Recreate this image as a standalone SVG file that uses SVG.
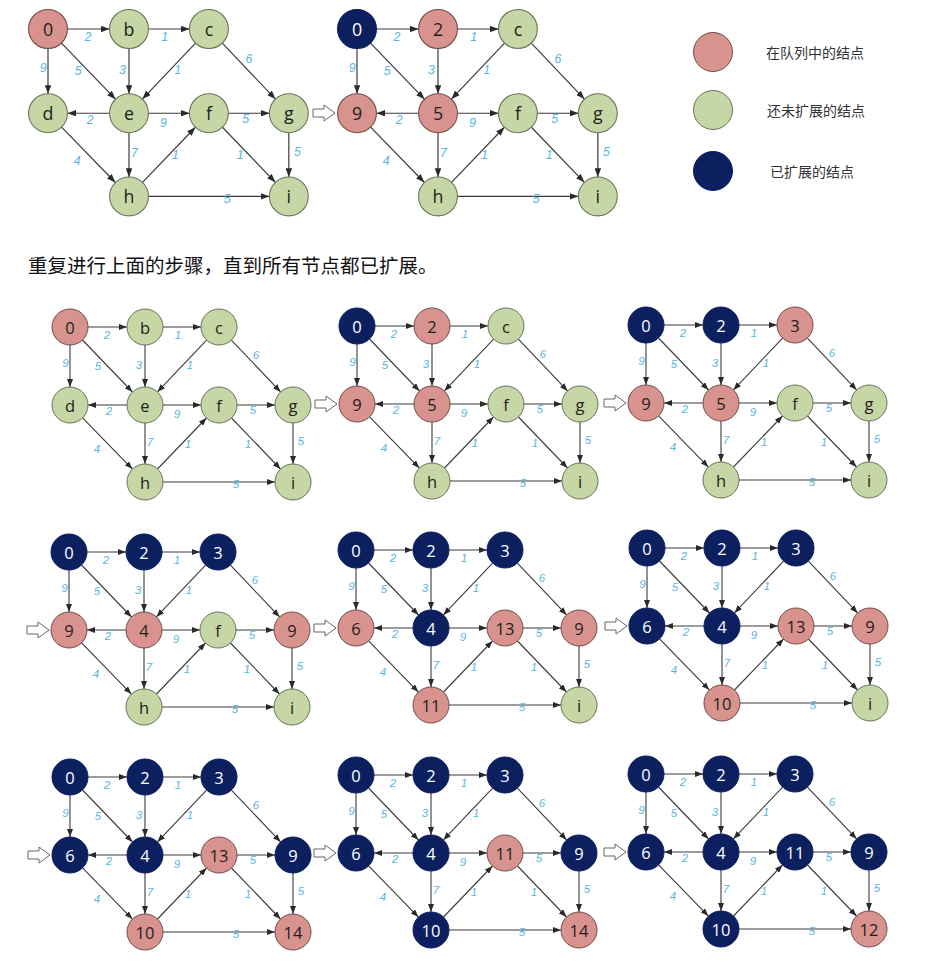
<svg xmlns="http://www.w3.org/2000/svg" xmlns:xlink="http://www.w3.org/1999/xlink" width="926" height="966" viewBox="0 0 926 966">
<style>
.e line{stroke:#3a3a3a;stroke-width:1.1;marker-end:url(#ah)}
.w text{font-family:"Liberation Sans",Arial,sans-serif;font-style:italic;font-size:11.5px;fill:#58b6de;text-anchor:middle;dominant-baseline:central}
.n text{font-family:"Open Sans","Noto Sans",sans-serif;font-size:16.5px;text-anchor:middle;dominant-baseline:central;fill:#1e1e1e}
.p circle{fill:#d8938e;stroke:#6f4d4a;stroke-width:1}
.q circle{fill:#c6d6a4;stroke:#68745a;stroke-width:1}
.v circle{fill:#0c1f5f;stroke:#0c1f5f;stroke-width:1}
.v text{fill:#ffffff}
.ha{fill:#fff;stroke:#666;stroke-width:1}
.lg{font-family:"Noto Sans CJK SC",sans-serif;font-size:14px;fill:#333;dominant-baseline:central}
</style>
<defs>
<marker id="ah" markerUnits="userSpaceOnUse" markerWidth="8" markerHeight="6" refX="8" refY="3" orient="auto"><path d="M0,0 L8,3 L0,6 Z" fill="#2a2a2a"/></marker>
<polygon id="hollow" points="-22,-4 -11,-4 -11,-8 0,0 -11,8 -11,4 -22,4"/>
<g id="edgeset">
<g class="e">
<line x1="18" y1="0" x2="57" y2="0"/>
<line x1="93" y1="0" x2="131" y2="0"/>
<line x1="0" y1="18" x2="0" y2="60"/>
<line x1="12.5" y1="13" x2="62.5" y2="65"/>
<line x1="75" y1="18" x2="75" y2="60"/>
<line x1="136.6" y1="13.1" x2="87.4" y2="64.9"/>
<line x1="161.4" y1="13.1" x2="210.6" y2="64.9"/>
<line x1="57" y1="78" x2="18" y2="78"/>
<line x1="93" y1="78" x2="131" y2="78"/>
<line x1="167" y1="78" x2="205" y2="78"/>
<line x1="12.6" y1="90.9" x2="62.4" y2="142.1"/>
<line x1="75" y1="96" x2="75" y2="137"/>
<line x1="87.5" y1="142" x2="136.5" y2="91"/>
<line x1="161.5" y1="91" x2="210.5" y2="142"/>
<line x1="223" y1="96" x2="223" y2="137"/>
<line x1="93" y1="155" x2="205" y2="155"/>
</g>
<g class="w">
<text x="37" y="7.5">2</text>
<text x="108" y="7.5">1</text>
<text x="-4.5" y="36">9</text>
<text x="28" y="39">5</text>
<text x="69" y="38">3</text>
<text x="120" y="38">1</text>
<text x="186" y="28">6</text>
<text x="39" y="84">2</text>
<text x="107" y="87">9</text>
<text x="183" y="83">5</text>
<text x="27" y="122">4</text>
<text x="80" y="115">7</text>
<text x="118" y="117">1</text>
<text x="178" y="117">1</text>
<text x="231" y="114">5</text>
<text x="166" y="157">5</text>
</g>
</g>
</defs>
<rect width="926" height="966" fill="#ffffff"/>

<g id="arrows">
<use xlink:href="#hollow" class="ha" transform="translate(335,113)"/>
<use xlink:href="#hollow" class="ha" transform="translate(337,404)"/>
<use xlink:href="#hollow" class="ha" transform="translate(626,403)"/>
<use xlink:href="#hollow" class="ha" transform="translate(49,630)"/>
<use xlink:href="#hollow" class="ha" transform="translate(336,628)"/>
<use xlink:href="#hollow" class="ha" transform="translate(627,626)"/>
<use xlink:href="#hollow" class="ha" transform="translate(50,855)"/>
<use xlink:href="#hollow" class="ha" transform="translate(336,853)"/>
<use xlink:href="#hollow" class="ha" transform="translate(626,852)"/>
</g>

<!-- top graph 1 -->
<g id="t1" transform="translate(48,29) scale(1.08)">
<g id="t1-connectors"><use xlink:href="#edgeset"/></g>
<g id="t1-n0" class="n p"><circle cx="0" cy="0" r="18"/><text x="0" y="0">0</text></g>
<g id="t1-nb" class="n q"><circle cx="75" cy="0" r="18"/><text x="75" y="0">b</text></g>
<g id="t1-nc" class="n q"><circle cx="149" cy="0" r="18"/><text x="149" y="0">c</text></g>
<g id="t1-nd" class="n q"><circle cx="0" cy="78" r="18"/><text x="0" y="78">d</text></g>
<g id="t1-ne" class="n q"><circle cx="75" cy="78" r="18"/><text x="75" y="78">e</text></g>
<g id="t1-nf" class="n q"><circle cx="149" cy="78" r="18"/><text x="149" y="78">f</text></g>
<g id="t1-ng" class="n q"><circle cx="223" cy="78" r="18"/><text x="223" y="78">g</text></g>
<g id="t1-nh" class="n q"><circle cx="75" cy="155" r="18"/><text x="75" y="155">h</text></g>
<g id="t1-ni" class="n q"><circle cx="223" cy="155" r="18"/><text x="223" y="155">i</text></g>
</g>

<!-- top graph 2 -->
<g id="t2" transform="translate(357,29) scale(1.08)">
<g id="t2-connectors"><use xlink:href="#edgeset"/></g>
<g id="t2-n0" class="n v"><circle cx="0" cy="0" r="18"/><text x="0" y="0">0</text></g>
<g id="t2-nb" class="n p"><circle cx="75" cy="0" r="18"/><text x="75" y="0">2</text></g>
<g id="t2-nc" class="n q"><circle cx="149" cy="0" r="18"/><text x="149" y="0">c</text></g>
<g id="t2-nd" class="n p"><circle cx="0" cy="78" r="18"/><text x="0" y="78">9</text></g>
<g id="t2-ne" class="n p"><circle cx="75" cy="78" r="18"/><text x="75" y="78">5</text></g>
<g id="t2-nf" class="n q"><circle cx="149" cy="78" r="18"/><text x="149" y="78">f</text></g>
<g id="t2-ng" class="n q"><circle cx="223" cy="78" r="18"/><text x="223" y="78">g</text></g>
<g id="t2-nh" class="n q"><circle cx="75" cy="155" r="18"/><text x="75" y="155">h</text></g>
<g id="t2-ni" class="n q"><circle cx="223" cy="155" r="18"/><text x="223" y="155">i</text></g>
</g>

<!-- legend -->
<g id="legend">
<g id="lg-queue" class="p"><circle cx="713" cy="52" r="19.5"/><text class="lg" x="766" y="52">在队列中的结点</text></g>
<g id="lg-new" class="q"><circle cx="713" cy="110" r="19.5"/><text class="lg" x="767" y="110">还未扩展的结点</text></g>
<g id="lg-done" class="v"><circle cx="713" cy="171" r="19.5"/><text class="lg" x="770" y="171" style="fill:#333">已扩展的结点</text></g>
</g>

<text id="caption" x="28" y="264" font-family="Noto Sans CJK SC, sans-serif" font-size="19.5" fill="#111" dominant-baseline="central">重复进行上面的步骤，直到所有节点都已扩展。</text>

<!-- row 1 -->
<g id="r1c1" transform="translate(70,327)">
<g id="r1c1-connectors"><use xlink:href="#edgeset"/></g>
<g id="r1c1-n0" class="n p"><circle cx="0" cy="0" r="18"/><text x="0" y="0">0</text></g>
<g id="r1c1-nb" class="n q"><circle cx="75" cy="0" r="18"/><text x="75" y="0">b</text></g>
<g id="r1c1-nc" class="n q"><circle cx="149" cy="0" r="18"/><text x="149" y="0">c</text></g>
<g id="r1c1-nd" class="n q"><circle cx="0" cy="78" r="18"/><text x="0" y="78">d</text></g>
<g id="r1c1-ne" class="n q"><circle cx="75" cy="78" r="18"/><text x="75" y="78">e</text></g>
<g id="r1c1-nf" class="n q"><circle cx="149" cy="78" r="18"/><text x="149" y="78">f</text></g>
<g id="r1c1-ng" class="n q"><circle cx="223" cy="78" r="18"/><text x="223" y="78">g</text></g>
<g id="r1c1-nh" class="n q"><circle cx="75" cy="155" r="18"/><text x="75" y="155">h</text></g>
<g id="r1c1-ni" class="n q"><circle cx="223" cy="155" r="18"/><text x="223" y="155">i</text></g>
</g>

<g id="r1c2" transform="translate(357,326)">
<g id="r1c2-connectors"><use xlink:href="#edgeset"/></g>
<g id="r1c2-n0" class="n v"><circle cx="0" cy="0" r="18"/><text x="0" y="0">0</text></g>
<g id="r1c2-nb" class="n p"><circle cx="75" cy="0" r="18"/><text x="75" y="0">2</text></g>
<g id="r1c2-nc" class="n q"><circle cx="149" cy="0" r="18"/><text x="149" y="0">c</text></g>
<g id="r1c2-nd" class="n p"><circle cx="0" cy="78" r="18"/><text x="0" y="78">9</text></g>
<g id="r1c2-ne" class="n p"><circle cx="75" cy="78" r="18"/><text x="75" y="78">5</text></g>
<g id="r1c2-nf" class="n q"><circle cx="149" cy="78" r="18"/><text x="149" y="78">f</text></g>
<g id="r1c2-ng" class="n q"><circle cx="223" cy="78" r="18"/><text x="223" y="78">g</text></g>
<g id="r1c2-nh" class="n q"><circle cx="75" cy="155" r="18"/><text x="75" y="155">h</text></g>
<g id="r1c2-ni" class="n q"><circle cx="223" cy="155" r="18"/><text x="223" y="155">i</text></g>
</g>

<g id="r1c3" transform="translate(646,325)">
<g id="r1c3-connectors"><use xlink:href="#edgeset"/></g>
<g id="r1c3-n0" class="n v"><circle cx="0" cy="0" r="18"/><text x="0" y="0">0</text></g>
<g id="r1c3-nb" class="n v"><circle cx="75" cy="0" r="18"/><text x="75" y="0">2</text></g>
<g id="r1c3-nc" class="n p"><circle cx="149" cy="0" r="18"/><text x="149" y="0">3</text></g>
<g id="r1c3-nd" class="n p"><circle cx="0" cy="78" r="18"/><text x="0" y="78">9</text></g>
<g id="r1c3-ne" class="n p"><circle cx="75" cy="78" r="18"/><text x="75" y="78">5</text></g>
<g id="r1c3-nf" class="n q"><circle cx="149" cy="78" r="18"/><text x="149" y="78">f</text></g>
<g id="r1c3-ng" class="n q"><circle cx="223" cy="78" r="18"/><text x="223" y="78">g</text></g>
<g id="r1c3-nh" class="n q"><circle cx="75" cy="155" r="18"/><text x="75" y="155">h</text></g>
<g id="r1c3-ni" class="n q"><circle cx="223" cy="155" r="18"/><text x="223" y="155">i</text></g>
</g>

<!-- row 2 -->
<g id="r2c1" transform="translate(69,552)">
<g id="r2c1-connectors"><use xlink:href="#edgeset"/></g>
<g id="r2c1-n0" class="n v"><circle cx="0" cy="0" r="18"/><text x="0" y="0">0</text></g>
<g id="r2c1-nb" class="n v"><circle cx="75" cy="0" r="18"/><text x="75" y="0">2</text></g>
<g id="r2c1-nc" class="n v"><circle cx="149" cy="0" r="18"/><text x="149" y="0">3</text></g>
<g id="r2c1-nd" class="n p"><circle cx="0" cy="78" r="18"/><text x="0" y="78">9</text></g>
<g id="r2c1-ne" class="n p"><circle cx="75" cy="78" r="18"/><text x="75" y="78">4</text></g>
<g id="r2c1-nf" class="n q"><circle cx="149" cy="78" r="18"/><text x="149" y="78">f</text></g>
<g id="r2c1-ng" class="n p"><circle cx="223" cy="78" r="18"/><text x="223" y="78">9</text></g>
<g id="r2c1-nh" class="n q"><circle cx="75" cy="155" r="18"/><text x="75" y="155">h</text></g>
<g id="r2c1-ni" class="n q"><circle cx="223" cy="155" r="18"/><text x="223" y="155">i</text></g>
</g>

<g id="r2c2" transform="translate(356,550)">
<g id="r2c2-connectors"><use xlink:href="#edgeset"/></g>
<g id="r2c2-n0" class="n v"><circle cx="0" cy="0" r="18"/><text x="0" y="0">0</text></g>
<g id="r2c2-nb" class="n v"><circle cx="75" cy="0" r="18"/><text x="75" y="0">2</text></g>
<g id="r2c2-nc" class="n v"><circle cx="149" cy="0" r="18"/><text x="149" y="0">3</text></g>
<g id="r2c2-nd" class="n p"><circle cx="0" cy="78" r="18"/><text x="0" y="78">6</text></g>
<g id="r2c2-ne" class="n v"><circle cx="75" cy="78" r="18"/><text x="75" y="78">4</text></g>
<g id="r2c2-nf" class="n p"><circle cx="149" cy="78" r="18"/><text x="149" y="78">13</text></g>
<g id="r2c2-ng" class="n p"><circle cx="223" cy="78" r="18"/><text x="223" y="78">9</text></g>
<g id="r2c2-nh" class="n p"><circle cx="75" cy="155" r="18"/><text x="75" y="155">11</text></g>
<g id="r2c2-ni" class="n q"><circle cx="223" cy="155" r="18"/><text x="223" y="155">i</text></g>
</g>

<g id="r2c3" transform="translate(647,548)">
<g id="r2c3-connectors"><use xlink:href="#edgeset"/></g>
<g id="r2c3-n0" class="n v"><circle cx="0" cy="0" r="18"/><text x="0" y="0">0</text></g>
<g id="r2c3-nb" class="n v"><circle cx="75" cy="0" r="18"/><text x="75" y="0">2</text></g>
<g id="r2c3-nc" class="n v"><circle cx="149" cy="0" r="18"/><text x="149" y="0">3</text></g>
<g id="r2c3-nd" class="n v"><circle cx="0" cy="78" r="18"/><text x="0" y="78">6</text></g>
<g id="r2c3-ne" class="n v"><circle cx="75" cy="78" r="18"/><text x="75" y="78">4</text></g>
<g id="r2c3-nf" class="n p"><circle cx="149" cy="78" r="18"/><text x="149" y="78">13</text></g>
<g id="r2c3-ng" class="n p"><circle cx="223" cy="78" r="18"/><text x="223" y="78">9</text></g>
<g id="r2c3-nh" class="n p"><circle cx="75" cy="155" r="18"/><text x="75" y="155">10</text></g>
<g id="r2c3-ni" class="n q"><circle cx="223" cy="155" r="18"/><text x="223" y="155">i</text></g>
</g>

<!-- row 3 -->
<g id="r3c1" transform="translate(70,777)">
<g id="r3c1-connectors"><use xlink:href="#edgeset"/></g>
<g id="r3c1-n0" class="n v"><circle cx="0" cy="0" r="18"/><text x="0" y="0">0</text></g>
<g id="r3c1-nb" class="n v"><circle cx="75" cy="0" r="18"/><text x="75" y="0">2</text></g>
<g id="r3c1-nc" class="n v"><circle cx="149" cy="0" r="18"/><text x="149" y="0">3</text></g>
<g id="r3c1-nd" class="n v"><circle cx="0" cy="78" r="18"/><text x="0" y="78">6</text></g>
<g id="r3c1-ne" class="n v"><circle cx="75" cy="78" r="18"/><text x="75" y="78">4</text></g>
<g id="r3c1-nf" class="n p"><circle cx="149" cy="78" r="18"/><text x="149" y="78">13</text></g>
<g id="r3c1-ng" class="n v"><circle cx="223" cy="78" r="18"/><text x="223" y="78">9</text></g>
<g id="r3c1-nh" class="n p"><circle cx="75" cy="155" r="18"/><text x="75" y="155">10</text></g>
<g id="r3c1-ni" class="n p"><circle cx="223" cy="155" r="18"/><text x="223" y="155">14</text></g>
</g>

<g id="r3c2" transform="translate(356,775)">
<g id="r3c2-connectors"><use xlink:href="#edgeset"/></g>
<g id="r3c2-n0" class="n v"><circle cx="0" cy="0" r="18"/><text x="0" y="0">0</text></g>
<g id="r3c2-nb" class="n v"><circle cx="75" cy="0" r="18"/><text x="75" y="0">2</text></g>
<g id="r3c2-nc" class="n v"><circle cx="149" cy="0" r="18"/><text x="149" y="0">3</text></g>
<g id="r3c2-nd" class="n v"><circle cx="0" cy="78" r="18"/><text x="0" y="78">6</text></g>
<g id="r3c2-ne" class="n v"><circle cx="75" cy="78" r="18"/><text x="75" y="78">4</text></g>
<g id="r3c2-nf" class="n p"><circle cx="149" cy="78" r="18"/><text x="149" y="78">11</text></g>
<g id="r3c2-ng" class="n v"><circle cx="223" cy="78" r="18"/><text x="223" y="78">9</text></g>
<g id="r3c2-nh" class="n v"><circle cx="75" cy="155" r="18"/><text x="75" y="155">10</text></g>
<g id="r3c2-ni" class="n p"><circle cx="223" cy="155" r="18"/><text x="223" y="155">14</text></g>
</g>

<g id="r3c3" transform="translate(646,774)">
<g id="r3c3-connectors"><use xlink:href="#edgeset"/></g>
<g id="r3c3-n0" class="n v"><circle cx="0" cy="0" r="18"/><text x="0" y="0">0</text></g>
<g id="r3c3-nb" class="n v"><circle cx="75" cy="0" r="18"/><text x="75" y="0">2</text></g>
<g id="r3c3-nc" class="n v"><circle cx="149" cy="0" r="18"/><text x="149" y="0">3</text></g>
<g id="r3c3-nd" class="n v"><circle cx="0" cy="78" r="18"/><text x="0" y="78">6</text></g>
<g id="r3c3-ne" class="n v"><circle cx="75" cy="78" r="18"/><text x="75" y="78">4</text></g>
<g id="r3c3-nf" class="n v"><circle cx="149" cy="78" r="18"/><text x="149" y="78">11</text></g>
<g id="r3c3-ng" class="n v"><circle cx="223" cy="78" r="18"/><text x="223" y="78">9</text></g>
<g id="r3c3-nh" class="n v"><circle cx="75" cy="155" r="18"/><text x="75" y="155">10</text></g>
<g id="r3c3-ni" class="n p"><circle cx="223" cy="155" r="18"/><text x="223" y="155">12</text></g>
</g>
</svg>
